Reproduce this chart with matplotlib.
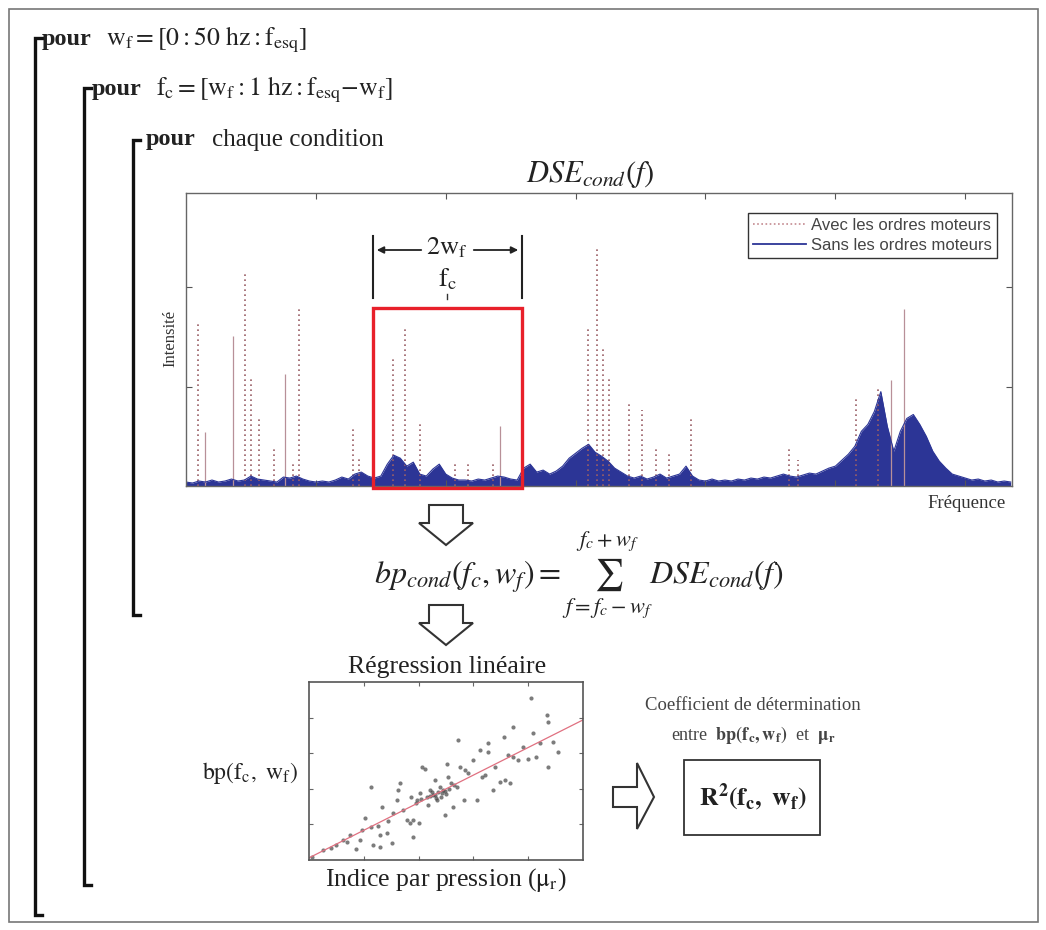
######################
# Importar librerías #
######################

import numpy as np
import matplotlib
matplotlib.use("Agg")
import matplotlib.pyplot as plt
from matplotlib.patches import Rectangle, Polygon
from matplotlib.lines import Line2D

plt.rcParams['font.family'] = ['Liberation Serif', 'DejaVu Serif']
plt.rcParams['mathtext.fontset'] = 'stix'

#########################
# Données du spectre    #
#########################

# spectre sans les ordres moteurs, pas de 50 Hz (0 -> 6350 Hz)
freq_pas = 50
dse_sans = [0.04, 0.03, 0.05, 0.04, 0.06, 0.04, 0.05, 0.07, 0.05, 0.06,
            0.10, 0.07, 0.06, 0.05, 0.04,
            0.09, 0.08, 0.10, 0.07, 0.05,
            0.04, 0.05, 0.04, 0.06,
            0.09, 0.07,
            0.12, 0.14, 0.10, 0.08,
            0.10, 0.22, 0.31,
            0.28, 0.20, 0.24,
            0.12, 0.10, 0.17, 0.22,
            0.12, 0.08, 0.06,
            0.06, 0.05, 0.07, 0.06, 0.08, 0.10, 0.09,
            0.07, 0.06,
            0.18, 0.22, 0.14, 0.16, 0.12,
            0.15, 0.20, 0.28, 0.33,
            0.38, 0.42, 0.34, 0.30,
            0.25, 0.18, 0.14, 0.10,
            0.08, 0.10, 0.07, 0.09, 0.12, 0.08,
            0.10, 0.12, 0.20,
            0.10, 0.06, 0.05, 0.07, 0.05,
            0.06, 0.05, 0.07, 0.06, 0.08, 0.07, 0.09, 0.08, 0.10, 0.12,
            0.10, 0.09, 0.11, 0.13, 0.12,
            0.15, 0.18, 0.20, 0.26, 0.32,
            0.40, 0.55, 0.62, 0.75, 0.95,
            0.60, 0.35,
            0.55, 0.68, 0.72, 0.62, 0.50,
            0.35, 0.25, 0.18, 0.12, 0.10,
            0.08, 0.06, 0.07, 0.05, 0.06, 0.04, 0.05, 0.04]

# raies des ordres moteurs (pointillés)
ordres_f = [93, 455, 501, 563, 678, 825, 871, 1288, 1334, 1596, 1688, 1804,
            2074, 2174, 2367, 3092, 3161, 3207, 3254, 3408, 3508, 3616, 3716,
            3886, 4642, 4711, 5158, 5328]
ordres_h = [1.63, 2.16, 1.10, 0.70, 0.39, 0.23, 1.78, 0.57, 0.29, 1.31, 1.61, 0.65,
            0.23, 0.23, 0.23, 1.58, 2.42, 1.40, 1.11, 0.85, 0.77, 0.40, 0.33,
            0.67, 0.37, 0.26, 0.89, 0.99]

# raies fines (trait continu)
raies_f = [146, 362, 763, 2421, 5428, 5528]
raies_h = [0.54, 1.51, 1.13, 0.60, 1.07, 1.78]

##########################
# Données de régression  #
##########################

mu_r = [0.05, 0.26, 0.50, 0.69, 0.75, 0.93, 0.96, 1.02, 1.14, 1.14, 1.17, 1.30,
        1.30, 1.33, 1.42, 1.51, 1.54, 1.60, 1.66, 1.63, 1.72, 1.78, 1.84, 1.90,
        1.87, 1.97, 2.03, 2.06, 2.12, 2.15, 2.18, 2.21, 2.27, 2.30, 2.33, 2.39,
        2.45, 2.48, 2.51, 2.54, 2.60, 2.63, 2.72, 2.76, 2.82, 2.85, 2.91, 3.00,
        3.06, 3.12, 3.15, 3.21, 3.27, 3.36, 3.39, 3.48, 3.55, 3.58, 3.64, 3.67,
        3.73, 3.82, 3.91, 4.00, 4.09, 4.15, 4.22, 4.34, 4.37, 4.37, 4.46, 4.54,
        4.06, 3.73, 3.27, 2.30, 2.36, 2.42, 2.48, 2.50, 2.56, 2.32, 1.90, 2.00,
        1.45, 0.85, 2.20, 2.25, 2.40, 2.05, 1.95, 2.65, 2.70, 1.25, 0.62, 0.40]
bp = [0.09, 0.28, 0.42, 0.51, 0.70, 0.56, 0.84, 1.17, 0.94, 2.06, 0.42, 0.37,
      0.70, 1.50, 0.75, 0.47, 1.31, 1.69, 2.15, 1.97, 1.40, 1.12, 1.03, 1.12,
      1.78, 1.69, 1.87, 2.62, 2.57, 1.78, 1.54, 1.97, 1.83, 2.25, 1.69, 2.06,
      1.97, 1.26, 2.71, 2.34, 2.15, 1.50, 3.37, 2.62, 1.69, 2.53, 2.44, 2.81,
      1.69, 3.09, 2.34, 2.39, 3.04, 1.97, 2.62, 2.20, 3.46, 2.25, 2.95, 2.15,
      2.90, 2.81, 3.18, 2.85, 3.56, 2.90, 3.28, 4.07, 3.88, 2.62, 3.32, 3.04,
      4.54, 3.74, 3.28, 1.83, 1.92, 1.88, 1.95, 1.85, 2.00, 1.75, 0.65, 1.05,
      1.10, 0.30, 1.80, 1.90, 1.78, 1.72, 1.60, 2.10, 2.05, 0.95, 0.55, 0.35]
reg_pente = 0.775
reg_origine = 0.06

######################
# Figure et calques  #
######################

fig = plt.figure(figsize=(10.46, 9.30), dpi=100)
fond = fig.add_axes([0, 0, 1, 1])
fond.set_xlim(0, 1046)
fond.set_ylim(930, 0)
fond.axis('off')

# cadre extérieur
fond.add_patch(Rectangle((9, 9), 1029, 913, fill=False, ec='#777777', lw=1.2))

# accolades des boucles
for x, y0, y1 in [(35, 38, 915), (84, 88, 885), (133, 140, 615)]:
    fond.plot([x + 7, x, x, x + 7], [y0, y0, y1, y1], color='#111111', lw=2.4,
              solid_joinstyle='miter')

fond.text(42, 40, "pour", fontsize=17.5, fontweight='bold', va='center', color='#222222')
fond.text(106, 40, r"$\mathrm{w_f = [0 : 50\ hz : f_{esq}]}$", fontsize=18.5,
          va='center', color='#222222')
fond.text(92, 90, "pour", fontsize=17.5, fontweight='bold', va='center', color='#222222')
fond.text(156, 90, r"$\mathrm{f_c = [w_f : 1\ hz : f_{esq}\mathrm{-}w_f]}$", fontsize=18.5,
          va='center', color='#222222')
fond.text(146, 140, "pour", fontsize=17.5, fontweight='bold', va='center', color='#222222')
fond.text(212, 140, "chaque condition", fontsize=18, va='center', color='#222222')

# titre du spectre
fond.text(590, 174, r"$DSE_{cond}(f)$", fontsize=22, ha='center', va='center', color='#222222')
fond.text(170, 338, "Intensité", fontsize=12, rotation=90, ha='center', va='center',
          color='#333333')
fond.text(967, 503, "Fréquence", fontsize=13.5, ha='center', va='center', color='#333333')

# flèches creuses
def fleche_bas(xc, y_haut, y_tete, y_pointe):
    pts = [(xc - 17, y_haut), (xc + 17, y_haut), (xc + 17, y_tete), (xc + 27, y_tete),
           (xc, y_pointe), (xc - 27, y_tete), (xc - 17, y_tete)]
    fond.add_patch(Polygon(pts, closed=True, fc='white', ec='#333333', lw=1.5))

fleche_bas(446, 505, 523, 545)
fleche_bas(446, 605, 623, 645)

pts = [(613, 787), (637, 787), (637, 763), (654, 797), (637, 829), (637, 807), (613, 807)]
fond.add_patch(Polygon(pts, closed=True, fc='white', ec='#333333', lw=1.5))

# formule de la bande passante
fond.text(579, 575, r"$bp_{cond}(f_c, w_f) = \sum_{f=f_c-w_f}^{f_c+w_f} DSE_{cond}(f)$",
          fontsize=23, ha='center', va='center', color='#222222')

fond.text(447, 667, "Régression linéaire", fontsize=18.5, ha='center', va='center',
          color='#222222')
fond.text(250, 773, r"$\mathrm{bp(f_c,\ w_f)}$", fontsize=17, ha='center', va='center',
          color='#222222')
fond.text(446, 880, r"Indice par pression ($\mathrm{\mu_r}$)", fontsize=18.5, ha='center',
          va='center', color='#222222')

fond.text(753, 705, "Coefficient de détermination", fontsize=13.5, ha='center',
          va='center', color='#444444')
fond.text(753, 735, r"entre  $\mathbf{bp(f_c,w_f)}$  et  $\mathbf{\mu_r}$", fontsize=13,
          ha='center', va='center', color='#444444')
fond.add_patch(Rectangle((684, 760), 136, 75, fill=False, ec='#333333', lw=1.3))
fond.text(753, 797, r"$\mathbf{R^2(f_c,\ w_f)}$", fontsize=18.5, ha='center', va='center',
          color='#222222')

#########################
# Spectre DSE_cond(f)   #
#########################

ax = fig.add_axes([186 / 1046, 1 - 486 / 930, 826 / 1046, 293 / 930])
freq = np.arange(len(dse_sans)) * freq_pas

ax.vlines(ordres_f, 0, ordres_h, colors='#9a5f66', linestyles=(0, (1, 2)), lw=1.2)
ax.vlines(raies_f, 0, raies_h, colors='#b89098', lw=0.9)
ax.fill_between(freq, 0, dse_sans, color='#2c3596', lw=0)
ax.plot(freq, dse_sans, color='#2c3596', lw=0.8)

ax.set_xlim(0, 6360)
ax.set_ylim(0, 2.95)
ax.set_xticks([1000, 2000, 3000, 4000, 5000, 6000])
ax.set_yticks([1, 2])
ax.tick_params(direction='in', length=4, top=True, right=True,
               labelbottom=False, labelleft=False, color='#555555')
for s in ax.spines.values():
    s.set_color('#666666')
    s.set_linewidth(1.0)

poignees = [Line2D([], [], color='#c48a90', ls=(0, (1, 1.5)), lw=1.2),
            Line2D([], [], color='#2c3596', lw=1.3)]
leg = ax.legend(poignees, ["Avec les ordres moteurs", "Sans les ordres moteurs"],
                loc='upper right', bbox_to_anchor=(0.982, 0.932), borderaxespad=0,
                fancybox=False, framealpha=1, edgecolor='#333333',
                prop={'family': 'Liberation Sans', 'size': 12}, handlelength=3.2,
                handletextpad=0.3, borderpad=0.3, labelspacing=0.3)
leg.get_frame().set_linewidth(1.0)
for t in leg.get_texts():
    t.set_color('#444444')

######################
# Nuage de points    #
######################

ax2 = fig.add_axes([309 / 1046, 1 - 860 / 930, 274 / 1046, 178 / 930])
ax2.scatter(mu_r, bp, s=9, color='#444444', alpha=0.7, lw=0)
xr = np.array([0, 5])
ax2.plot(xr, reg_pente * xr + reg_origine, color='#e07080', lw=0.9)
ax2.set_xlim(0, 5)
ax2.set_ylim(0, 5)
ax2.set_xticks([1, 2, 3, 4])
ax2.set_yticks([1, 2, 3, 4])
ax2.tick_params(direction='in', length=3, top=True, right=True,
                labelbottom=False, labelleft=False, color='#666666')
for s in ax2.spines.values():
    s.set_color('#555555')
    s.set_linewidth(1.2)

###########################
# Calque de superposition #
###########################

ov = fig.add_axes([0, 0, 1, 1], facecolor='none')
ov.set_xlim(0, 1046)
ov.set_ylim(930, 0)
ov.axis('off')

ov.add_patch(Rectangle((373, 308), 149, 180, fill=False, ec='#e8202a', lw=2.4))
ov.plot([373, 373], [236, 298], color='#222222', lw=1.5)
ov.plot([522, 522], [236, 298], color='#222222', lw=1.5)
ov.annotate("", xy=(374, 250), xytext=(424, 250),
            arrowprops=dict(arrowstyle='-|>', color='#222222', lw=1.3, mutation_scale=10))
ov.annotate("", xy=(521, 250), xytext=(471, 250),
            arrowprops=dict(arrowstyle='-|>', color='#222222', lw=1.3, mutation_scale=10))
ov.text(447, 248, r"$\mathrm{2w_f}$", fontsize=19, ha='center', va='center', color='#222222')
ov.text(447, 279, r"$\mathrm{f_c}$", fontsize=19, ha='center', va='center', color='#222222')
ov.plot([447, 447], [294, 299], color='#333333', lw=1.0)

plt.savefig('out.png', dpi=100)
